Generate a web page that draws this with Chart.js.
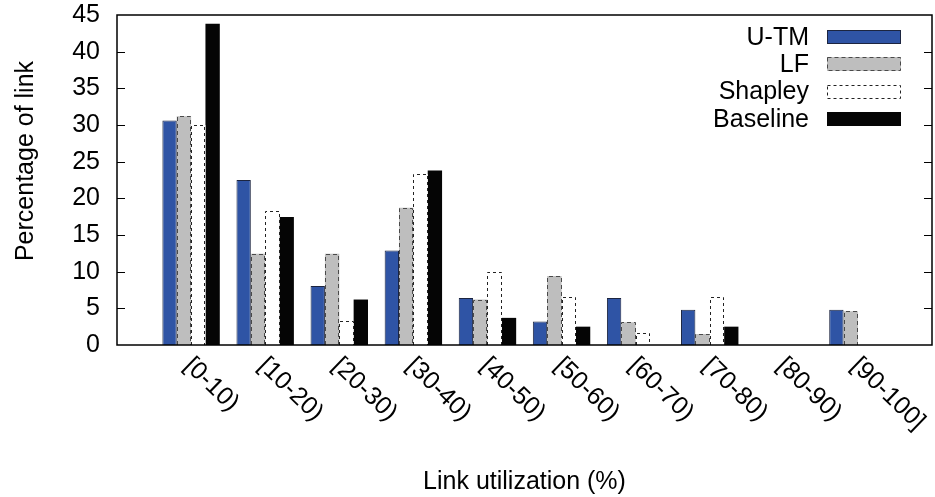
<!DOCTYPE html>
<html>
<head>
<meta charset="utf-8">
<script src="https://cdn.jsdelivr.net/npm/chart.js@4.4.1/dist/chart.umd.min.js"></script>
<style>
  html, body { margin: 0; padding: 0; background: #fff; }
  #wrap { width: 935px; height: 497px; }
</style>
</head>
<body>
<div id="wrap"><canvas id="chart" width="935" height="497"></canvas></div>
<script>
// Link utilization buckets
const categories = ['[0-10)', '[10-20)', '[20-30)', '[30-40)', '[40-50)',
                    '[50-60)', '[60-70)', '[70-80)', '[80-90)', '[90-100]'];

// Percentage of links per bucket
const utmValues      = [30.6, 22.5, 8.05, 12.9, 6.4, 3.2, 6.4, 4.8, 0, 4.8];
const lfValues       = [31.2, 12.45, 12.45, 18.7, 6.2, 9.4, 3.1, 1.5, 0, 4.6];
const shapleyValues  = [30.0, 18.3, 3.3, 23.3, 10.0, 6.6, 1.6, 6.6, 0, 0];
const baselineValues = [43.8, 17.45, 6.2, 23.8, 3.7, 2.5, 0, 2.5, 0, 0];

// Y axis range
const yMin = 0;
const yMax = 45;
const yStep = 5;

const FONT = '"Liberation Sans", Arial, Helvetica, sans-serif';
const FONT_SIZE = 25;

// gnuplot leaves one empty slot at each end of the x range
const pad = arr => [null, ...arr, null];
const slotLabels = ['', ...categories, ''];

// Dashed outlines + frame, inner ticks, rotated labels and legend
const gnuplotLook = {
    id: 'gnuplotLook',
    afterDatasetsDraw(chart) {
        const ctx = chart.ctx;
        chart.data.datasets.forEach((ds, d) => {
            if (!ds.outlineDash) return;
            const meta = chart.getDatasetMeta(d);
            ctx.save();
            ctx.strokeStyle = ds.outlineColor;
            ctx.lineWidth = 1;
            ctx.setLineDash(ds.outlineDash);
            meta.data.forEach((bar, i) => {
                if (!ds.data[i]) return;
                const p = bar.getProps(['x', 'y', 'base', 'width'], true);
                const l = Math.round(p.x - p.width / 2) + 0.5;
                const r = Math.round(p.x + p.width / 2) - 0.5;
                const t = Math.round(p.y) + 0.5;
                ctx.beginPath();
                ctx.moveTo(l, p.base);
                ctx.lineTo(l, t);
                ctx.lineTo(r, t);
                ctx.lineTo(r, p.base);
                ctx.stroke();
            });
            ctx.restore();
        });
    },
    afterDraw(chart) {
        const ctx = chart.ctx;
        const area = chart.chartArea;
        const xScale = chart.scales.x;
        const yScale = chart.scales.y;

        ctx.save();
        // frame
        ctx.strokeStyle = '#000';
        ctx.lineWidth = 1.5;
        ctx.setLineDash([]);
        ctx.strokeRect(area.left, area.top, area.right - area.left, area.bottom - area.top);

        // inner ticks on both sides
        ctx.lineWidth = 1;
        yScale.ticks.forEach(t => {
            if (t.value === yMin || t.value === yMax) return;
            const py = Math.round(yScale.getPixelForValue(t.value)) + 0.5;
            ctx.beginPath();
            ctx.moveTo(area.left, py);
            ctx.lineTo(area.left + 8, py);
            ctx.moveTo(area.right, py);
            ctx.lineTo(area.right - 8, py);
            ctx.stroke();
        });

        // rotated category labels
        ctx.fillStyle = '#000';
        ctx.font = FONT_SIZE + 'px ' + FONT;
        ctx.textAlign = 'left';
        ctx.textBaseline = 'alphabetic';
        categories.forEach((label, i) => {
            const px = xScale.getPixelForTick(i + 1);
            ctx.save();
            ctx.translate(px - 8, area.bottom + 22);
            ctx.rotate(44 * Math.PI / 180);
            ctx.fillText(label, 0, 0);
            ctx.restore();
        });

        // y axis title
        ctx.save();
        ctx.translate(26, 161);
        ctx.rotate(-Math.PI / 2);
        ctx.textAlign = 'center';
        ctx.textBaseline = 'middle';
        ctx.fillText('Percentage of link', 0, 0);
        ctx.restore();

        // legend, text on the left, sample box on the right
        const boxL = area.right - 105;
        const boxW = 74;
        const boxH = 14;
        chart.data.datasets.forEach((ds, d) => {
            const cy = area.top + 22 + d * 27.3;
            ctx.textAlign = 'right';
            ctx.textBaseline = 'middle';
            ctx.fillStyle = '#000';
            ctx.fillText(ds.label, boxL - 18, cy + 1);
            const top = Math.round(cy - boxH / 2);
            ctx.fillStyle = ds.backgroundColor;
            ctx.fillRect(boxL, top, boxW, boxH);
            ctx.lineWidth = 1;
            if (ds.outlineDash) {
                ctx.strokeStyle = ds.outlineColor;
                ctx.setLineDash(ds.outlineDash);
            } else {
                ctx.strokeStyle = ds.borderColor;
                ctx.setLineDash([]);
            }
            ctx.strokeRect(boxL + 0.5, top + 0.5, boxW - 1, boxH - 1);
        });
        ctx.restore();
    }
};

Chart.defaults.font.family = FONT;
Chart.defaults.font.size = FONT_SIZE;
Chart.defaults.color = '#000';

new Chart(document.getElementById('chart'), {
    type: 'bar',
    data: {
        labels: slotLabels,
        datasets: [
            {
                label: 'U-TM',
                data: pad(utmValues),
                backgroundColor: '#2f54a5',
                borderColor: '#1c2540',
                borderWidth: 1
            },
            {
                label: 'LF',
                data: pad(lfValues),
                backgroundColor: '#bebebe',
                borderWidth: 0,
                outlineDash: [4, 3],
                outlineColor: '#4a4a4a'
            },
            {
                label: 'Shapley',
                data: pad(shapleyValues),
                backgroundColor: '#ffffff',
                borderWidth: 0,
                outlineDash: [3, 3],
                outlineColor: '#222222'
            },
            {
                label: 'Baseline',
                data: pad(baselineValues),
                backgroundColor: '#050505',
                borderColor: '#050505',
                borderWidth: 0
            }
        ]
    },
    options: {
        responsive: false,
        animation: false,
        layout: {
            padding: { top: 15, right: 3, bottom: 0, left: 0 }
        },
        datasets: {
            bar: {
                categoryPercentage: 0.775,
                barPercentage: 1.0
            }
        },
        scales: {
            x: {
                offset: false,
                grid: { display: false },
                border: { display: false },
                ticks: { display: false },
                title: {
                    display: true,
                    text: 'Link utilization (%)',
                    font: { size: FONT_SIZE },
                    padding: { top: 4, bottom: 0 }
                },
                afterFit: scale => { scale.height = 152; }
            },
            y: {
                min: yMin,
                max: yMax,
                grid: { display: false, drawTicks: false },
                border: { display: false },
                ticks: {
                    stepSize: yStep,
                    padding: 17
                },
                afterFit: scale => {
                    scale.width = 117;
                    // keep the top tick label from pushing the plot down
                    scale.paddingTop = 0;
                    scale.paddingBottom = 0;
                }
            }
        },
        plugins: {
            legend: { display: false },
            tooltip: { enabled: false }
        }
    },
    plugins: [gnuplotLook]
});
</script>
</body>
</html>
